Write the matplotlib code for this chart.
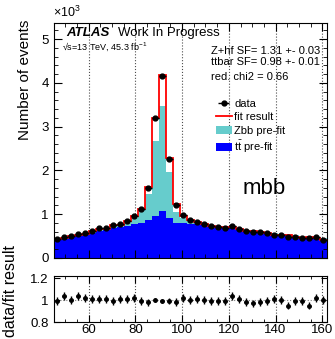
import numpy as np
import matplotlib
matplotlib.use("Agg")
import matplotlib.pyplot as plt
from matplotlib.ticker import MultipleLocator

plt.rcParams['font.family'] = ['Liberation Sans', 'DejaVu Sans']
plt.rcParams['mathtext.fontset'] = 'custom'
plt.rcParams['mathtext.rm'] = 'Liberation Sans'
plt.rcParams['mathtext.it'] = 'Liberation Sans:italic'

# mbb bins, 3 GeV wide from 45 to 162
bin_lo = 45
bin_hi = 162
bin_w = 3

# events in units of 10^3
data = [0.43, 0.47, 0.50, 0.54, 0.56, 0.62, 0.68, 0.68, 0.75, 0.77, 0.85, 0.97, 1.11,
        1.59, 3.19, 4.16, 2.27, 1.21, 0.98, 0.87, 0.82, 0.78, 0.73, 0.71, 0.69, 0.73,
        0.66, 0.61, 0.59, 0.59, 0.56, 0.53, 0.53, 0.49, 0.48, 0.46, 0.45, 0.47, 0.42]
fit = [0.434, 0.452, 0.50, 0.519, 0.549, 0.614, 0.673, 0.673, 0.758, 0.762, 0.842, 0.951,
       1.121, 1.622, 3.19, 4.18, 2.29, 1.235, 0.961, 0.87, 0.812, 0.78, 0.737, 0.717,
       0.697, 0.702, 0.653, 0.622, 0.608, 0.602, 0.566, 0.525, 0.53, 0.516, 0.485, 0.465,
       0.474, 0.461, 0.42]
ttbar = [0.41, 0.44, 0.47, 0.50, 0.53, 0.57, 0.61, 0.64, 0.68, 0.71, 0.74, 0.77, 0.80,
         0.86, 0.96, 1.07, 0.92, 0.81, 0.80, 0.78, 0.77, 0.75, 0.72, 0.70, 0.68, 0.68,
         0.65, 0.62, 0.60, 0.59, 0.57, 0.54, 0.53, 0.52, 0.50, 0.47, 0.47, 0.46, 0.43]
zbb = [0.01, 0.01, 0.01, 0.01, 0.01, 0.02, 0.02, 0.02, 0.04, 0.06, 0.07, 0.15, 0.32,
       0.60, 1.71, 2.40, 1.05, 0.25, 0.12, 0.08, 0.06, 0.04, 0.03, 0.03, 0.03, 0.03,
       0.02, 0.02, 0.02, 0.02, 0.02, 0.02, 0.02, 0.02, 0.02, 0.02, 0.02, 0.02, 0.02]
ratio = [0.99, 1.04, 1.00, 1.04, 1.02, 1.01, 1.01, 1.01, 0.99, 1.01, 1.01, 1.02, 0.99,
         0.98, 1.00, 0.99, 0.99, 0.98, 1.02, 1.00, 1.01, 1.00, 0.99, 0.99, 0.99, 1.04,
         1.01, 0.98, 0.97, 0.98, 0.99, 1.01, 1.00, 0.95, 0.99, 0.99, 0.95, 1.02, 1.00]
ratio_err = [0.035] * 13 + [0.03, 0.02, 0.02, 0.025] + [0.035] * 22

xticks = [60, 80, 100, 120, 140, 160]
xticklabels = ['60', '80', '100', '120', '140', '160']
yticks = [0, 1, 2, 3, 4, 5]
yticklabels = ['0', '1', '2', '3', '4', '5']
rticks = [0.8, 1.0, 1.2]
rticklabels = ['0.8', '1', '1.2']

edges = np.arange(bin_lo, bin_hi + bin_w, bin_w)
centers = edges[:-1] + bin_w / 2
ttbar = np.array(ttbar)
total = ttbar + np.array(zbb)

fig = plt.figure(figsize=(3.35, 3.39), dpi=100)
ax = fig.add_axes([0.160, 0.239, 0.816, 0.693])
rax = fig.add_axes([0.160, 0.050, 0.816, 0.136])

ax.stairs(total, edges, baseline=ttbar, fill=True, color='#66cccc', label='Zbb pre-fit')
ax.stairs(ttbar, edges, fill=True, color='#0000ff', label=r'$\mathregular{t\bar{t}}$ pre-fit')
ax.stairs(fit, edges, baseline=None, color='red', lw=1.3, label='fit result')
ax.errorbar(centers, data, xerr=1.5, fmt='o', color='black', ms=3.5, lw=1,
            capsize=0, label='data')

for x in xticks:
    ax.axvline(x, color='0.3', ls=':', lw=0.8, zorder=0.5)
    rax.axvline(x, color='0.3', ls=':', lw=0.8, zorder=0.5)

ax.set_xlim(bin_lo, bin_hi)
ax.set_ylim(0, 5.37)
ax.set_xticks(xticks)
ax.set_xticklabels([])
ax.set_yticks(yticks, yticklabels)
ax.xaxis.set_minor_locator(MultipleLocator(5))
ax.yaxis.set_minor_locator(MultipleLocator(0.2))
ax.tick_params(which='both', direction='in', top=True, right=True, labelsize=9.5)
ax.tick_params(which='major', length=6)
ax.tick_params(which='minor', length=3)

rax.axhline(1.0, color='0.5', ls=':', lw=0.8)
rax.errorbar(centers, ratio, yerr=ratio_err, xerr=0.8, fmt='o', color='black',
             ms=2.5, lw=1, capsize=0)
rax.set_xlim(bin_lo, bin_hi)
rax.set_ylim(0.8, 1.22)
rax.set_xticks(xticks, xticklabels)
rax.set_yticks(rticks, rticklabels)
rax.xaxis.set_minor_locator(MultipleLocator(5))
rax.tick_params(which='both', direction='in', top=True, right=True, labelsize=9.5)
rax.tick_params(axis='x', which='major', length=5, pad=1.5)
rax.tick_params(axis='x', which='minor', length=2.5)
rax.tick_params(axis='y', which='major', length=4)

for a in (ax, rax):
    for s in a.spines.values():
        s.set_linewidth(0.8)

handles, labels = ax.get_legend_handles_labels()
order = [labels.index(l) for l in ['data', 'fit result', 'Zbb pre-fit',
                                   r'$\mathregular{t\bar{t}}$ pre-fit']]
fig.legend([handles[i] for i in order], [labels[i] for i in order],
           loc='upper left', bbox_to_anchor=(0.645, 0.708), frameon=False,
           fontsize=8, handlelength=1.4, handletextpad=0.25, labelspacing=0.3,
           borderpad=0, borderaxespad=0)

fig.text(0.158, 0.942, r'$\times$10$^{3}$', fontsize=9, ha='left', va='bottom')
fig.text(0.199, 0.902, 'ATLAS', fontsize=9.5, weight='bold', style='italic',
         ha='left', va='center')
fig.text(0.352, 0.902, 'Work In Progress', fontsize=9.5, ha='left', va='center')
fig.text(0.186, 0.862, '\u221as=13 TeV, 45.3 fb$^{-1}$', fontsize=6.5,
         ha='left', va='center')
fig.text(0.630, 0.849, 'Z+hf SF= 1.31 +- 0.03', fontsize=8, ha='left', va='center')
fig.text(0.630, 0.816, 'ttbar SF= 0.98 +- 0.01', fontsize=8, ha='left', va='center')
fig.text(0.630, 0.772, 'red. chi2 = 0.66', fontsize=8, ha='left', va='center')
fig.text(0.725, 0.445, 'mbb', fontsize=16, ha='left', va='center')

fig.text(0.075, 0.941, 'Number of events', fontsize=11, rotation=90,
         ha='center', va='top')
fig.text(0.030, 0.276, 'data/fit result', fontsize=11.5, rotation=90,
         ha='center', va='top')

fig.savefig('out.png', dpi=100)
